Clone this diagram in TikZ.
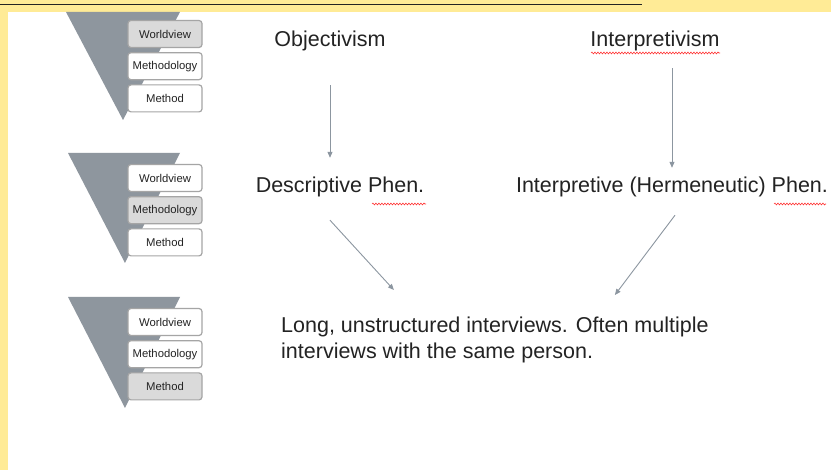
\documentclass[tikz,border=0pt]{standalone}
\usepackage{fontspec}
\setmainfont{Liberation Sans}
\usetikzlibrary{positioning}
\usetikzlibrary{arrows.meta}
\usetikzlibrary{decorations.pathmorphing}
\definecolor{slide}{RGB}{255,235,150}
\definecolor{funnelgray}{RGB}{142,150,158}
\definecolor{boxline}{RGB}{165,165,165}
\definecolor{boxhi}{RGB}{218,218,218}
\definecolor{arrowgray}{RGB}{140,150,160}
\definecolor{inkgray}{RGB}{35,35,35}

\begin{document}
\begin{tikzpicture}[x=1pt,y=-1pt,
            node distance = 4pt,
            layer/.style = {draw=boxline,line width=1.2pt,rounded corners=3pt,fill=white,
                minimum width=74pt,minimum height=27pt,inner sep=0pt,
                font=\fontsize{11.3}{13}\selectfont,text=inkgray},
            layeron/.style = {layer,fill=boxhi},
            funnel/.style = {fill=funnelgray},
            term/.style = {font=\fontsize{21.5}{26}\selectfont,text=inkgray,inner sep=0pt},
            arr/.style = {-{Triangle[length=6pt,width=5pt]},draw=arrowgray,line width=0.9pt},
            typo/.style = {draw=red!80,line width=0.6pt,decorate,
                decoration={snake,amplitude=0.9pt,segment length=3pt}}]
            \useasboundingbox (0,0) rectangle (831,470);
            \fill[slide] (0,0) rectangle (831,470);
            \fill[white] (8,12) rectangle (831,470);
            \draw[inkgray, line width=1.4pt] (0,4.5) -- (642,4.5);
            % funnels
            \fill[funnel] (66,12) -- (180,12) -- (123,120) -- cycle;
            \fill[funnel] (68,153) -- (180,153) -- (125,263) -- cycle;
            \fill[funnel] (68,297) -- (180,297) -- (125,408) -- cycle;
            \node[layeron] (wv1) at (165,34) {Worldview};
            \node[layer, below=of wv1] (md1) {Methodology};
            \node[layer, below=of md1] (mt1) {Method};
            \node[layer] (wv2) at (165,178) {Worldview};
            \node[layeron, below=of wv2] (md2) {Methodology};
            \node[layer, below=of md2] (mt2) {Method};
            \node[layer] (wv3) at (165,322) {Worldview};
            \node[layer, below=of wv3] (md3) {Methodology};
            \node[layeron, below=of md3] (mt3) {Method};
            % terms
            \node[term] (obj) at (330,41) {Objectivism};
            \node[term] (interp) at (655,41) {Interpretivism};
            \node[term] (desc) at (340,187) {Descriptive Phen.};
            \node[term] (herm) at (672,187) {Interpretive (Hermeneutic) Phen.};
            \node[term, anchor=north west, align=left] (long) at (281,317)
                {Long, unstructured interviews. Often multiple\\interviews with the same person.};
            \draw[typo] (591,53) -- (720,53);
            \draw[typo] (372,204) -- (426,204);
            \draw[typo] (774,204) -- (826,204);
            \draw[arr, shorten <=34pt, shorten >=19pt] (obj.south) -- (obj.south |- desc.north);
            \draw[arr, shorten <=17pt, shorten >=9pt] (interp.south -| herm.north) -- (herm.north);
            \draw[arr] ([shift={(-10pt,-23pt)}]desc.south) -- ([shift={(-101pt,27pt)}]long.north);
            \draw[arr] ([shift={(3pt,-18pt)}]herm.south) -- ([shift={(120pt,22pt)}]long.north);
        \end{tikzpicture}
\end{document}
